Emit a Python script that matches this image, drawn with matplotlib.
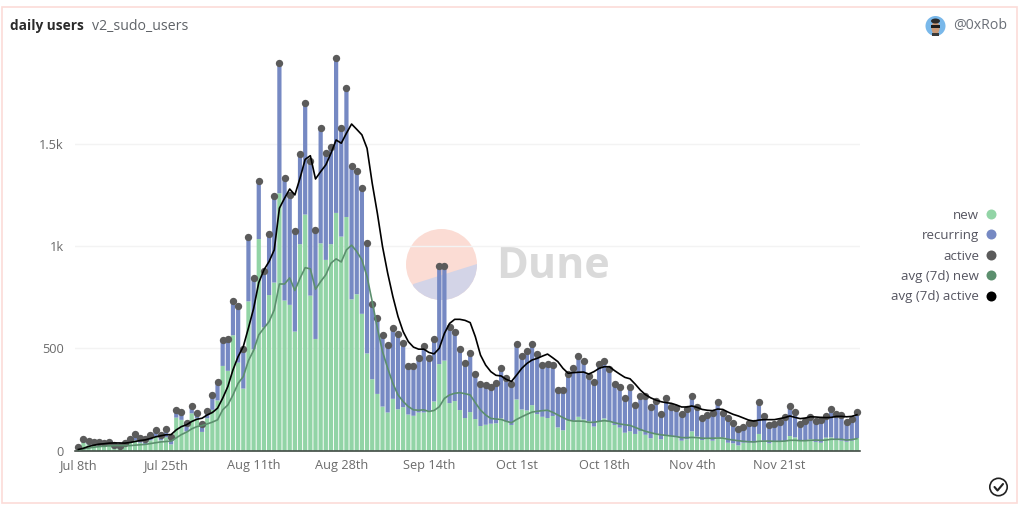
import matplotlib
matplotlib.use("Agg")
import matplotlib.pyplot as plt
from matplotlib.lines import Line2D
from matplotlib.patches import Circle, Polygon, Rectangle, Ellipse

plt.rcParams['font.family'] = ['Open Sans', 'DejaVu Sans']

new_users = [8,39,30,25,25,25,28,22,20,28,38,50,38,30,50,68,50,65,30,161,150,93,182,158,91,158,199,245,414,390,564,430,303,730,495,1035,
    603,761,822,1259,734,713,582,1010,1155,758,546,1014,933,1010,1163,1047,1143,740,765,669,475,349,277,215,186,253,202,212,176,170,186,186,194,240,
    423,440,232,242,198,159,188,154,120,126,131,133,157,141,125,250,201,196,222,178,165,159,169,113,99,146,146,165,152,143,117,141,157,141,125,112,87,
    94,81,95,77,60,81,55,71,68,64,48,55,94,68,51,61,48,64,64,38,35,25,38,38,38,81,48,35,43,45,46,71,64,48,48,55,42,38,63,64,51,48,43,48,61]
recurring_users = [8,16,16,17,16,14,13,4,3,9,17,32,21,27,28,31,27,39,38,38,39,44,35,25,39,34,73,88,126,155,170,275,196,317,350,284,
    276,301,422,636,602,536,493,442,546,661,534,565,525,477,760,533,633,653,605,618,541,368,374,348,329,345,367,315,240,244,269,324,261,308,
    479,461,374,336,300,271,291,222,205,194,181,199,247,213,200,271,261,289,297,294,253,264,249,181,199,230,256,299,286,222,220,281,281,256,200,197,168,
    215,142,172,188,151,161,125,187,145,142,129,150,171,143,108,114,134,172,118,123,101,82,79,98,95,155,121,90,87,94,116,145,124,83,98,110,101,111,104,137,129,126,96,108,129]
active_users = [16,55,46,42,41,39,41,26,23,37,55,82,59,57,78,99,77,104,68,199,189,137,217,183,130,192,272,333,540,545,734,705,499,1047,845,1319,
    879,1062,1244,1895,1336,1249,1075,1452,1701,1419,1080,1579,1458,1487,1923,1580,1776,1393,1370,1287,1016,717,651,563,515,598,569,527,416,414,455,510,455,548,
    902,901,606,578,498,430,479,376,325,320,312,332,404,354,325,521,462,485,519,472,418,423,418,294,298,376,402,464,438,365,337,422,438,397,325,309,255,
    309,223,267,265,211,242,180,258,213,206,177,205,265,211,159,175,182,236,182,161,136,107,117,136,133,236,169,125,130,139,162,216,188,131,146,165,143,149,167,201,180,174,139,156,190]
avg_new = [3,8,12,16,19,21,23,24,24,24,24,26,28,30,34,38,42,44,46,62,78,90,106,117,122,130,139,150,199,223,272,329,362,440,490,566,
    599,631,688,815,815,845,783,843,895,889,789,827,860,917,938,923,982,1005,974,933,851,729,599,484,403,329,272,240,215,199,197,199,191,196,
    214,255,272,280,283,278,272,234,198,174,157,154,152,143,136,152,165,177,188,192,195,197,187,174,161,149,144,144,143,138,138,143,146,143,136,130,126,
    123,113,103,94,87,81,77,74,71,68,63,63,64,63,60,60,60,61,61,55,51,48,45,43,42,45,46,46,45,45,46,50,50,48,48,50,51,50,51,55,55,55,51,53,58]
avg_active = [5,11,20,26,31,33,36,37,37,36,39,44,49,52,59,67,72,77,78,101,117,126,142,153,158,174,186,207,256,313,395,460,509,600,695,822,
    884,925,982,1186,1235,1280,1251,1333,1425,1443,1329,1365,1398,1455,1520,1504,1553,1598,1572,1545,1479,1308,1161,998,868,754,656,582,533,506,496,496,480,473,
    500,573,622,642,642,637,626,557,467,418,386,368,365,348,338,369,402,426,443,451,462,472,454,435,402,378,381,383,384,374,386,402,410,410,391,374,358,
    351,325,296,273,258,247,239,234,231,223,213,213,218,211,201,197,195,203,201,188,177,169,159,149,144,149,151,151,151,156,161,169,162,156,159,165,164,162,161,162,167,167,165,167,175]
tick_positions = [0,17,34,51,68,85,102,119,136]
tick_labels = ["Jul 8th","Jul 25th","Aug 11th","Aug 28th","Sep 14th","Oct 1st","Oct 18th","Nov 4th","Nov 21st"]
y_ticks = [0,500,1000,1500]
y_labels = ["0","500","1k","1.5k"]
series_names = ["new","recurring","active","avg (7d) new","avg (7d) active"]

C_NEW, C_REC, C_ACT, C_AVN, C_AVA = "#92d4a6", "#7689c3", "#5b5b5b", "#5c8f6e", "#000000"
W, H = 1024, 505
days = list(range(len(active_users)))

fig = plt.figure(figsize=(W/100, H/100), dpi=100, facecolor="white")

# page furniture layer, in pixel coordinates
bg = fig.add_axes([0,0,1,1], zorder=0)
bg.set_xlim(0,W); bg.set_ylim(H,0); bg.axis("off")
bg.add_patch(Rectangle((2,7),1015,496,fill=False,ec="#fcdcd8",lw=1.2))
disc = Circle((441.5,264.5),35.5,fc="#fbdcd4",ec="none")
bg.add_patch(disc)
seg = Polygon([(477,264),(413.3,284),(400,320),(490,320)],fc="#d3d4e7",ec="none")
bg.add_patch(seg); seg.set_clip_path(disc)
bg.text(496,266,"Dune",fontsize=31,fontweight="bold",color="#dadada",va="center",ha="left")
bg.text(10,26,"daily users",fontsize=9.8,fontweight="bold",color="#2b2b2b",va="center")
bg.text(92,26,"v2_sudo_users",fontsize=10.2,color="#5f6368",va="center")
bg.text(953,26,"@0xRob",fontsize=10.2,color="#6b7078",va="center")
bg.add_patch(Circle((935.5,26),10,fc="#79b8ea",ec="none"))
bg.add_patch(Ellipse((935.5,28),8,13,fc="#c99a78",ec="none"))
bg.add_patch(Ellipse((935.5,21),9,5,fc="#2c2c2c",ec="none"))
bg.add_patch(Rectangle((931,25),9,2.5,fc="#1c1c1c",ec="none"))
bg.add_patch(Rectangle((932,33),7,3,fc="#3a3a3a",ec="none"))
bg.add_patch(Circle((998.5,487),8.7,fill=False,ec="#222222",lw=1.2))
bg.plot([994.5,997.5,1003],[487,490.5,484],color="#222222",lw=1.5,solid_capstyle="round")

# chart layer
x0, x1, y0, y1 = 75, 860, 450.5, 45
ax = fig.add_axes([x0/W, 1-y0/H, (x1-x0)/W, (y0-y1)/H], zorder=1)
ax.patch.set_visible(False)
ax.set_xlim(-0.64, 151.6)
ax.set_ylim(0, (y0-y1)/0.2043)
ax.grid(axis="y", color="#f3f3f3", lw=1, zorder=0)
ax.set_axisbelow(True)
for b in (ax.bar(days, new_users, width=0.82, color=C_NEW, zorder=2),
          ax.bar(days, recurring_users, width=0.82, bottom=new_users, color=C_REC, zorder=2)):
    for p in b:
        p.set_snap(False)
ax.scatter(days, active_users, s=28, color=C_ACT, zorder=3, linewidths=0, clip_on=False)
ax.plot(days, avg_new, color=C_AVN, lw=1.2, zorder=4)
ax.plot(days, avg_active, color=C_AVA, lw=1.2, zorder=5)
for s in ["top","right","left"]:
    ax.spines[s].set_visible(False)
ax.spines["bottom"].set_color("#2e3a32")
ax.spines["bottom"].set_linewidth(1.1)
ax.set_xticks(tick_positions, tick_labels)
ax.set_yticks(y_ticks, y_labels)
ax.tick_params(axis="both", length=0, labelsize=9.2, labelcolor="#6b6b6b")
ax.tick_params(axis="x", pad=6)
ax.tick_params(axis="y", pad=8)

handles = [Line2D([],[],ls="",marker="o",ms=7.2,color=c,mew=0) for c in [C_NEW,C_REC,C_ACT,C_AVN,C_AVA]]
fig.legend(handles, series_names, loc="center right", bbox_to_anchor=(999/W, 1-256/H),
           frameon=False, markerfirst=False, alignment="right", fontsize=9.5,
           labelcolor="#555560", labelspacing=0.56, handletextpad=0.3, handlelength=1.2, borderpad=0, borderaxespad=0)

fig.savefig("out.png", dpi=100)
